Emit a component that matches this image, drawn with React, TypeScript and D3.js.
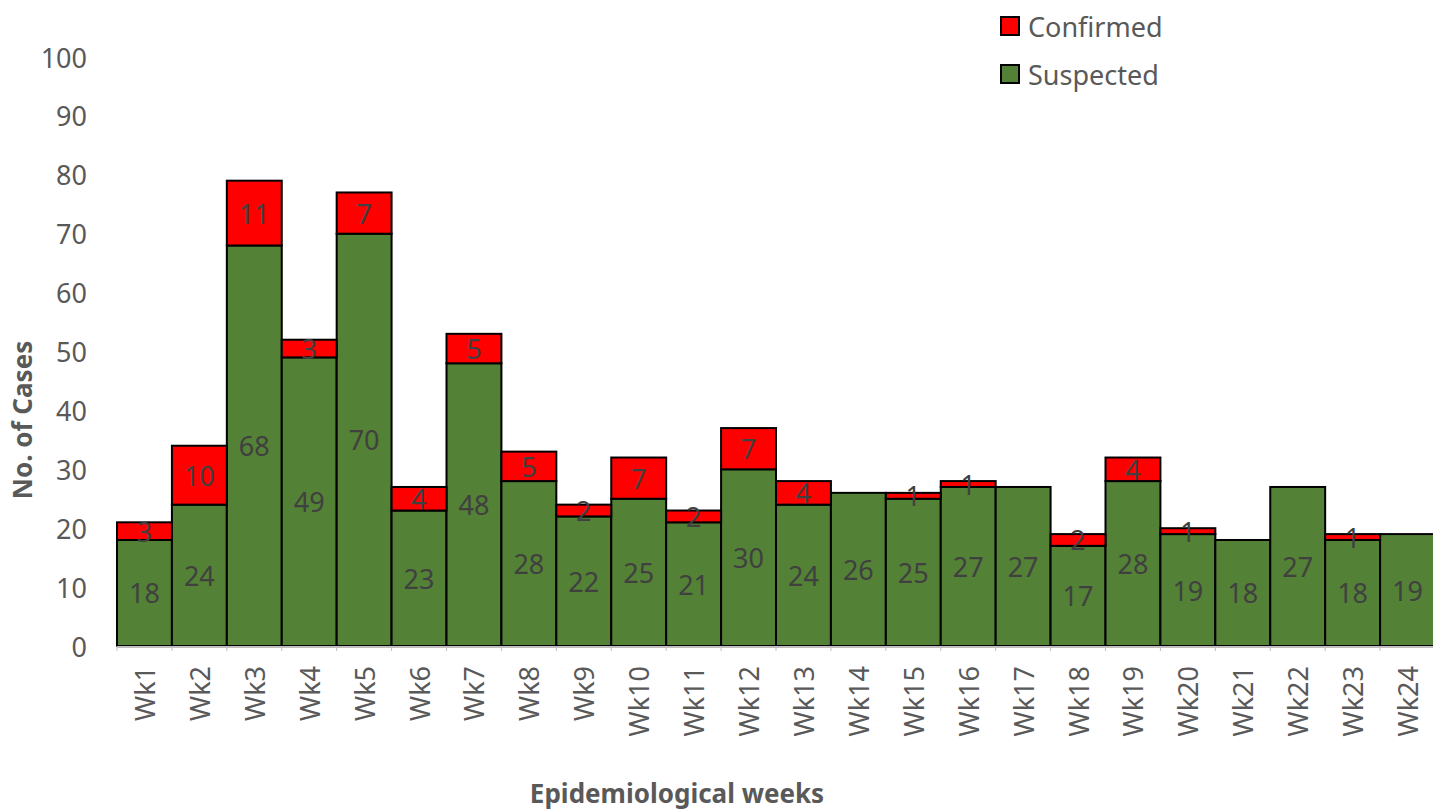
import React from "react";
import * as d3 from "d3";

// Weekly case counts
const weeks = [
  "Wk1", "Wk2", "Wk3", "Wk4", "Wk5", "Wk6", "Wk7", "Wk8", "Wk9", "Wk10", "Wk11", "Wk12",
  "Wk13", "Wk14", "Wk15", "Wk16", "Wk17", "Wk18", "Wk19", "Wk20", "Wk21", "Wk22", "Wk23", "Wk24",
];
const suspected = [18, 24, 68, 49, 70, 23, 48, 28, 22, 25, 21, 30, 24, 26, 25, 27, 27, 17, 28, 19, 18, 27, 18, 19];
const confirmed = [3, 10, 11, 3, 7, 4, 5, 5, 2, 7, 2, 7, 4, 0, 1, 1, 0, 2, 4, 1, 0, 0, 1, 0];
const yTicks = [0, 10, 20, 30, 40, 50, 60, 70, 80, 90, 100];

const seriesNames = ["Suspected", "Confirmed"];
const seriesColors = ["#538135", "#ff0000"];

const W = 1433;
const H = 811;
const FONT = "'Noto Sans', 'Open Sans', sans-serif";

export default function App() {
  const rows = weeks.map((w, i) => ({ week: w, Suspected: suspected[i], Confirmed: confirmed[i] }));
  const stacked = d3.stack<any>().keys(seriesNames)(rows);

  const x = d3.scaleBand().domain(weeks).range([117, 1435]).padding(0);
  const y = d3.scaleLinear().domain([0, 100]).range([646, 57]);

  return (
    <svg
      width={W}
      height={H}
      style={{ position: "absolute", left: 0, top: 0, background: "#fff" }}
      fontFamily={FONT}
    >
      {/* y tick labels */}
      {yTicks.map((t) => (
        <text key={t} x={87} y={y(t)} textAnchor="end" dominantBaseline="central" fontSize={27} fill="#595959">
          {t}
        </text>
      ))}

      {/* bars */}
      {stacked.map((layer, si) =>
        layer.map((d, i) => {
          const h = y(d[0]) - y(d[1]);
          if (h <= 0) return null;
          return (
            <rect
              key={seriesNames[si] + i}
              x={x(weeks[i])}
              y={y(d[1])}
              width={x.bandwidth()}
              height={h}
              fill={seriesColors[si]}
              stroke="#000"
              strokeWidth={2}
            />
          );
        })
      )}

      {/* axis line */}
      <line x1={117} x2={1435} y1={y(0) + 1} y2={y(0) + 1} stroke="#bfbfbf" strokeWidth={2} />
      {weeks.map((w) => (
        <line key={"t" + w} x1={x(w)} x2={x(w)} y1={y(0)} y2={y(0) + 5} stroke="#bfbfbf" strokeWidth={1} />
      ))}

      {/* data labels */}
      {stacked.map((layer, si) =>
        layer.map((d, i) => {
          const v = d[1] - d[0];
          if (v <= 0) return null;
          return (
            <text
              key={"l" + seriesNames[si] + i}
              x={x(weeks[i])! + x.bandwidth() / 2}
              y={y((d[0] + d[1]) / 2)}
              textAnchor="middle"
              dominantBaseline="central"
              fontSize={27}
              fill="#404040"
            >
              {v}
            </text>
          );
        })
      )}

      {/* category labels */}
      {weeks.map((w) => {
        const cx = x(w)! + x.bandwidth() / 2;
        return (
          <text
            key={"c" + w}
            transform={`translate(${cx},666) rotate(-90)`}
            textAnchor="end"
            dominantBaseline="central"
            fontSize={27}
            fill="#595959"
          >
            {w}
          </text>
        );
      })}

      {/* axis titles */}
      <text
        transform={`translate(22,420) rotate(-90)`}
        textAnchor="middle"
        dominantBaseline="central"
        fontSize={26}
        fontWeight="bold"
        fill="#595959"
      >
        No. of Cases
      </text>
      <text x={677} y={793} textAnchor="middle" dominantBaseline="central" fontSize={26} fontWeight="bold" fill="#595959">
        Epidemiological weeks
      </text>

      {/* legend */}
      {["Confirmed", "Suspected"].map((name, i) => (
        <g key={name} transform={`translate(1001,${17 + i * 48})`}>
          <rect width={18} height={18} fill={seriesColors[seriesNames.indexOf(name)]} stroke="#000" strokeWidth={2} />
          <text x={27} y={9} dominantBaseline="central" fontSize={27} fill="#595959">
            {name}
          </text>
        </g>
      ))}
    </svg>
  );
}
